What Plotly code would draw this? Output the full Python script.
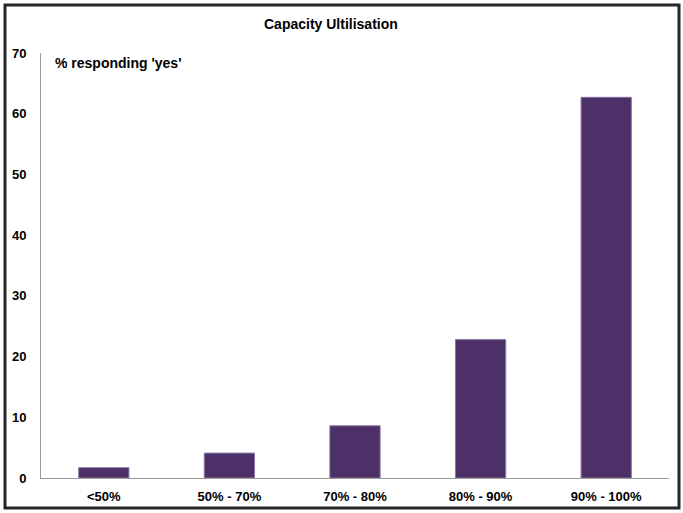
import plotly.graph_objects as go

categories = ["<50%", "50% - 70%", "70% - 80%", "80% - 90%", "90% - 100%"]
values = [1.7, 4.1, 8.6, 22.8, 62.7]
title_text = "Capacity Ultilisation"
unit_text = "% responding 'yes'"

FONT = "Liberation Sans Narrow, Arial Narrow, Liberation Sans, Arial, sans-serif"
W, H = 683, 513
L, R, T, B = 41, 14, 53, 35
pw, ph = W - L - R, H - T - B

def px_to_paper_x(x):
    return (x - L) / pw

def px_to_paper_y(y):
    return (H - B - y) / ph

fig = go.Figure(
    go.Bar(
        x=categories,
        y=values,
        width=0.4,
        marker=dict(color="#4e3068", line=dict(color="#8a74a3", width=1)),
    )
)

fig.update_layout(
    width=W,
    height=H,
    autosize=False,
    margin=dict(l=L, r=R, t=T, b=B, pad=0, autoexpand=False),
    paper_bgcolor="white",
    plot_bgcolor="white",
    showlegend=False,
    font=dict(family=FONT, size=13, color="black"),
    xaxis=dict(
        showline=True, linecolor="#9a9a9a", linewidth=1, automargin=False,
        showgrid=False, ticks="", zeroline=False,
        tickfont=dict(family=FONT, size=13, color="black", weight="bold"),
        ticklabelstandoff=6,
    ),
    yaxis=dict(
        range=[0, 70], dtick=10, showline=True, linecolor="#9a9a9a", linewidth=1,
        showgrid=False, ticks="", zeroline=False, automargin=False,
        tickfont=dict(family=FONT, size=13, color="black", weight="bold"),
        ticklabelstandoff=11,
    ),
    shapes=[
        dict(type="rect", xref="paper", yref="paper",
             x0=px_to_paper_x(5), x1=px_to_paper_x(679),
             y0=px_to_paper_y(508), y1=px_to_paper_y(5),
             line=dict(color="#262626", width=3), layer="above"),
    ],
    annotations=[
        dict(text="<b>" + title_text + "</b>", xref="paper", yref="paper",
             x=px_to_paper_x(331), y=px_to_paper_y(24), xanchor="center", yanchor="middle",
             showarrow=False, font=dict(family=FONT, size=14, color="black")),
        dict(text="<b>" + unit_text + "</b>", xref="paper", yref="paper",
             x=px_to_paper_x(53), y=px_to_paper_y(63), xanchor="left", yanchor="middle",
             showarrow=False, font=dict(family=FONT, size=14, color="black")),
    ],
)

fig.write_html("out.html", config={"displayModeBar": False},
               post_script="document.body.style.margin='0';")
